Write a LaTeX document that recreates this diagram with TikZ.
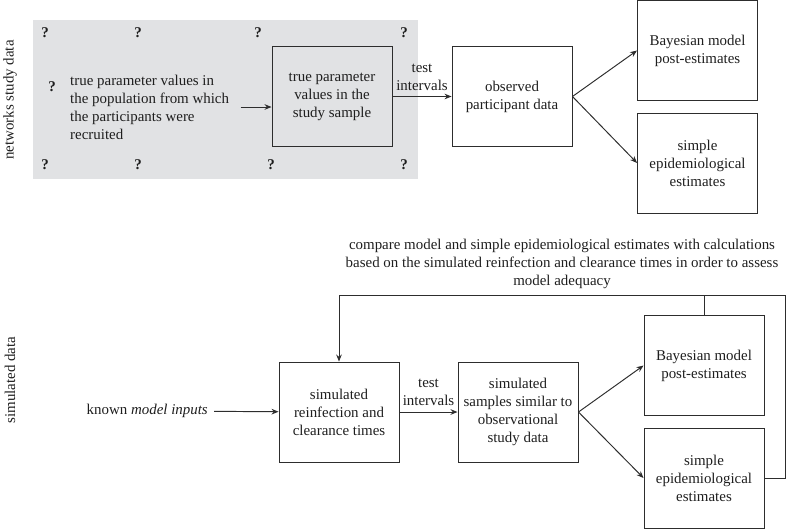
\documentclass[tikz,border=0pt]{standalone}
\usepackage{fontspec}
\setmainfont{Liberation Serif}
\definecolor{bggray}{RGB}{225, 226, 228}
\definecolor{linegray}{RGB}{45, 45, 45}
\definecolor{inkgray}{RGB}{30, 30, 30}
\usetikzlibrary{arrows.meta, positioning}

\begin{document}
\begin{tikzpicture}[x=0.02cm, y=-0.02cm, font=\fontsize{8.5}{10.2}\selectfont, text=inkgray,
  stagebox/.style={draw=linegray, line width=0.55pt, minimum width=2.4cm, minimum height=2cm, align=center, inner sep=2pt},
  flow/.style={draw=linegray, line width=0.55pt, -{Stealth[length=4pt, width=3.2pt]}},
  plainline/.style={draw=linegray, line width=0.55pt},
  qmark/.style={font=\fontsize{8.5}{10.2}\selectfont\bfseries},
  rowlabel/.style={rotate=90}]
  \useasboundingbox (0,0) rectangle (786,529);

  % Networks study data
  \node[rowlabel] (rowtop) at (10,100) {networks study data};
  \fill[bggray] (33,20) rectangle (418,179);
  \foreach \qx/\qy [count=\i] in {45/33, 138/33, 258/33, 404/33, 52/87, 45/165, 138/165, 271/165, 404/165}
    \node[qmark] (q\i) at (\qx,\qy) {?};
  \node[anchor=west, align=left] (popvals) at (64,107) {true parameter values in\\the population from which\\the participants were\\recruited};
  \node[stagebox] (samplevals) at (332,96.5) {true parameter\\values in the\\study sample};
  \node[stagebox] (observed) at (512,96.5) {observed\\participant data};
  \node[stagebox] (bayes1) at (697.5,50.5) {Bayesian model\\post-estimates};
  \node[stagebox] (simple1) at (697.5,163) {simple\\epidemiological\\estimates};
  \draw[flow] ([xshift=3pt]popvals.east) -- (popvals.east -| samplevals.west);
  \draw[flow] (samplevals) -- node[above, align=center] (testlbl1) {test\\intervals} (observed);
  \draw[flow] (observed.east) -- (bayes1.west);
  \draw[flow] (observed.east) -- (simple1.west);

  % Simulated data
  \node[rowlabel] (rowbot) at (10,380) {simulated data};
  \node[align=center] (comparenote) at (562,264) {compare model and simple epidemiological estimates with calculations\\based on the simulated reinfection and clearance times in order to assess\\model adequacy};
  \node[anchor=east] (inputs) at (214,411) {known \textit{model inputs}};
  \node[stagebox] (simtimes) at (339,412) {simulated\\reinfection and\\clearance times};
  \node[stagebox] (simsamples) at (518,412) {simulated\\samples similar to\\observational\\study data};
  \node[stagebox] (bayes2) at (704,365.5) {Bayesian model\\post-estimates};
  \node[stagebox] (simple2) at (704,478) {simple\\epidemiological\\estimates};
  \draw[flow] (inputs) -- (simtimes);
  \draw[flow] (simtimes) -- node[above, align=center] (testlbl2) {test\\intervals} (simsamples);
  \draw[flow] (simsamples.east) -- (bayes2.west);
  \draw[flow] (simsamples.east) -- (simple2.west);
  % feedback loop
  \coordinate (fbright) at (785,295);
  \draw[flow] (simple2.east) -| (fbright) -| (simtimes.north);
  \draw[plainline] (bayes2.north) -- (bayes2.north |- fbright);
\end{tikzpicture}
\end{document}
